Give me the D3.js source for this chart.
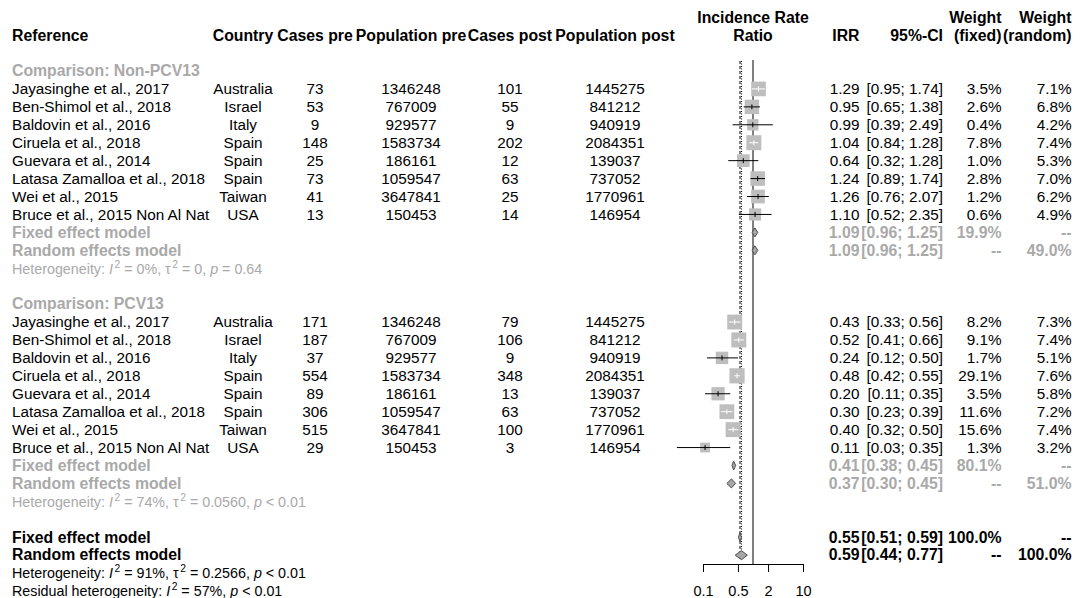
<!DOCTYPE html>
<html>
<head>
<meta charset="utf-8">
<script src="https://cdn.jsdelivr.net/npm/d3@7"></script>
<style>
  body { margin: 0; background: #fff; }
  svg { display: block; }
  text { font-family: 'Liberation Sans', Arial, Helvetica, sans-serif; }
</style>
</head>
<body>
<svg id="chart" width="1080" height="598"></svg>
<script>
// ---- Study data ----
const references = ["Jayasinghe et al., 2017", "Ben-Shimol et al., 2018", "Baldovin et al., 2016",
  "Ciruela et al., 2018", "Guevara et al., 2014", "Latasa Zamalloa et al., 2018",
  "Wei et al., 2015", "Bruce et al., 2015 Non Al Nat"];
const countries = ["Australia", "Israel", "Italy", "Spain", "Spain", "Spain", "Taiwan", "USA"];
const populationPre = [1346248, 767009, 929577, 1583734, 186161, 1059547, 3647841, 150453];
const populationPost = [1445275, 841212, 940919, 2084351, 139037, 737052, 1770961, 146954];

const groupLabels = ["Comparison: Non-PCV13", "Comparison: PCV13"];

// Non-PCV13 serotypes
const casesPreNon = [73, 53, 9, 148, 25, 73, 41, 13];
const casesPostNon = [101, 55, 9, 202, 12, 63, 25, 14];
const irrNon = [1.29, 0.95, 0.99, 1.04, 0.64, 1.24, 1.26, 1.10];
const lowerNon = [0.95, 0.65, 0.39, 0.84, 0.32, 0.89, 0.76, 0.52];
const upperNon = [1.74, 1.38, 2.49, 1.28, 1.28, 1.74, 2.07, 2.35];
const weightFixedNon = [3.5, 2.6, 0.4, 7.8, 1.0, 2.8, 1.2, 0.6];
const weightRandomNon = [7.1, 6.8, 4.2, 7.4, 5.3, 7.0, 6.2, 4.9];

// PCV13 serotypes
const casesPrePcv = [171, 187, 37, 554, 89, 306, 515, 29];
const casesPostPcv = [79, 106, 9, 348, 13, 63, 100, 3];
const irrPcv = [0.43, 0.52, 0.24, 0.48, 0.20, 0.30, 0.40, 0.11];
const lowerPcv = [0.33, 0.41, 0.12, 0.42, 0.11, 0.23, 0.32, 0.03];
const upperPcv = [0.56, 0.66, 0.50, 0.55, 0.35, 0.39, 0.50, 0.35];
const weightFixedPcv = [8.2, 9.1, 1.7, 29.1, 3.5, 11.6, 15.6, 1.3];
const weightRandomPcv = [7.3, 7.4, 5.1, 7.6, 5.8, 7.2, 7.4, 3.2];

// Subgroup pooled estimates (Non-PCV13, PCV13)
const subFixedIRR = [1.09, 0.41];
const subFixedLower = [0.96, 0.38];
const subFixedUpper = [1.25, 0.45];
const subFixedWeight = [19.9, 80.1];
const subRandomIRR = [1.09, 0.37];
const subRandomLower = [0.96, 0.30];
const subRandomUpper = [1.25, 0.45];
const subRandomWeight = [49.0, 51.0];
const subHetI2 = ["0%", "74%"];
const subHetTau2 = ["0", "0.0560"];
const subHetP = ["= 0.64", "< 0.01"];

// Overall pooled estimates
const overallFixed = [0.55, 0.51, 0.59];
const overallRandom = [0.59, 0.44, 0.77];
const overallHet = ["91%", "0.2566", "< 0.01"];
const residualHet = ["57%", "< 0.01"];

const axisTicks = [0.1, 0.5, 2, 10];

// ---- Layout ----
const svg = d3.select("#chart");
svg.append("rect").attr("width", 1080).attr("height", 598).attr("fill", "#fff");

const FS = 15.3;
const FS_BOLD = 15.8;
const FS_HET = 14.3;
const GREY = "#a9a9a9";
const x = d3.scaleLog().domain([0.1, 10]).range([703, 803]);
const row = d3.scaleLinear().domain([0, 29]).range([71, 591]);
const base = i => row(i) + 5.3;

const col = {
  ref: 12, country: 243, casesPre: 315, popPre: 411, casesPost: 510, popPost: 615,
  irr: 859.5, ci: 943, wf: 1001.5, wr: 1071.5
};

const fmt2 = d3.format(".2f");
const pct = v => v.toFixed(1) + "%";
const ciText = (l, u) => "[" + fmt2(l) + "; " + fmt2(u) + "]";

function txt(g, xPos, y, s, opts = {}) {
  return g.append("text")
    .attr("x", xPos).attr("y", y)
    .attr("text-anchor", opts.anchor || "start")
    .attr("font-size", opts.size || (opts.bold ? FS_BOLD : FS))
    .attr("font-weight", opts.bold ? "bold" : "normal")
    .attr("fill", opts.color || "#000")
    .text(s);
}

// ---- Build rows ----
const groups = [
  { label: groupLabels[0], casesPre: casesPreNon, casesPost: casesPostNon, irr: irrNon,
    lo: lowerNon, hi: upperNon, wf: weightFixedNon, wr: weightRandomNon },
  { label: groupLabels[1], casesPre: casesPrePcv, casesPost: casesPostPcv, irr: irrPcv,
    lo: lowerPcv, hi: upperPcv, wf: weightFixedPcv, wr: weightRandomPcv }
];

const studies = [];
const summaries = [];
const hetRows = [];
const headerRows = [];
let r = 0;
groups.forEach((g, gi) => {
  headerRows.push({ i: r, label: g.label });
  r++;
  references.forEach((ref, k) => {
    studies.push({
      i: r, ref, country: countries[k], casesPre: g.casesPre[k], popPre: populationPre[k],
      casesPost: g.casesPost[k], popPost: populationPost[k],
      irr: g.irr[k], lo: g.lo[k], hi: g.hi[k], wf: g.wf[k], wr: g.wr[k]
    });
    r++;
  });
  summaries.push({ i: r, label: "Fixed effect model", irr: subFixedIRR[gi], lo: subFixedLower[gi],
    hi: subFixedUpper[gi], wf: pct(subFixedWeight[gi]), wr: "--", color: GREY });
  r++;
  summaries.push({ i: r, label: "Random effects model", irr: subRandomIRR[gi], lo: subRandomLower[gi],
    hi: subRandomUpper[gi], wf: "--", wr: pct(subRandomWeight[gi]), color: GREY });
  r++;
  hetRows.push({ i: r, color: GREY, parts: [
    ["Heterogeneity: "], ["I", "it"], ["2", "sup"], [" = " + subHetI2[gi] + ", "],
    ["\u03C4"], ["2", "sup"], [" = " + subHetTau2[gi] + ", "], ["p", "it"], [" " + subHetP[gi]]
  ]});
  r += 2;
});
summaries.push({ i: r, label: "Fixed effect model", irr: overallFixed[0], lo: overallFixed[1],
  hi: overallFixed[2], wf: "100.0%", wr: "--", color: "#000" });
r++;
summaries.push({ i: r, label: "Random effects model", irr: overallRandom[0], lo: overallRandom[1],
  hi: overallRandom[2], wf: "--", wr: "100.0%", color: "#000" });
r++;
hetRows.push({ i: r, color: "#000", parts: [
  ["Heterogeneity: "], ["I", "it"], ["2", "sup"], [" = " + overallHet[0] + ", "],
  ["\u03C4"], ["2", "sup"], [" = " + overallHet[1] + ", "], ["p", "it"], [" " + overallHet[2]]
]});
r++;
hetRows.push({ i: r, color: "#000", parts: [
  ["Residual heterogeneity: "], ["I", "it"], ["2", "sup"], [" = " + residualHet[0] + ", "],
  ["p", "it"], [" " + residualHet[1]]
]});

// ---- Reference lines ----
const lines = svg.append("g");
lines.append("line").attr("x1", x(1)).attr("x2", x(1)).attr("y1", 60).attr("y2", 564)
  .attr("stroke", "#000").attr("stroke-width", 1);
lines.append("line").attr("x1", x(overallFixed[0])).attr("x2", x(overallFixed[0]))
  .attr("y1", 61).attr("y2", 561).attr("stroke", "#000").attr("stroke-width", 1)
  .attr("stroke-dasharray", "3,2");
lines.append("line").attr("x1", x(overallRandom[0])).attr("x2", x(overallRandom[0]))
  .attr("y1", 61).attr("y2", 561).attr("stroke", "#000").attr("stroke-width", 1)
  .attr("stroke-dasharray", "1,1.5");

// ---- Study squares and confidence intervals ----
const BOX = 5.5; // square side per sqrt(random weight %)
const marks = svg.append("g");
studies.forEach(s => {
  const cy = row(s.i);
  const cx = x(s.irr);
  const size = BOX * Math.sqrt(s.wr);
  marks.append("rect")
    .attr("x", cx - size / 2).attr("y", cy - size / 2)
    .attr("width", size).attr("height", size)
    .attr("fill", "#bebebe");
  const inside = x(s.lo) >= cx - size / 2 && x(s.hi) <= cx + size / 2;
  const c = inside ? "#fff" : "#000";
  marks.append("line").attr("x1", x(s.lo)).attr("x2", x(s.hi))
    .attr("y1", cy).attr("y2", cy).attr("stroke", c).attr("stroke-width", 1);
  marks.append("line").attr("x1", cx).attr("x2", cx)
    .attr("y1", cy - 2.5).attr("y2", cy + 2.5).attr("stroke", c).attr("stroke-width", 1);
});

// ---- Pooled diamonds ----
summaries.forEach(s => {
  const cy = row(s.i);
  const pts = [[x(s.lo), cy], [x(s.irr), cy - 4.5], [x(s.hi), cy], [x(s.irr), cy + 4.5]];
  marks.append("path")
    .attr("d", d3.line()(pts) + "Z")
    .attr("fill", "#a6a6a6").attr("stroke", "#4d4d4d").attr("stroke-width", 1);
});

// ---- Axis ----
const axis = svg.append("g").attr("transform", "translate(0,564)")
  .call(d3.axisBottom(x).tickValues(axisTicks).tickSize(8).tickSizeOuter(0)
    .tickFormat(d => String(d)));
axis.select(".domain").attr("stroke", "#000");
axis.selectAll(".tick line").attr("stroke", "#000");
axis.selectAll(".tick text").attr("font-size", 14.5).attr("fill", "#000")
  .attr("font-family", "'Liberation Sans', Arial, sans-serif").attr("dy", 0).attr("y", 32);

// ---- Column headings ----
const head = svg.append("g");
const hb = { bold: true };
txt(head, col.ref, 40.5, "Reference", hb);
txt(head, col.country, 40.5, "Country", { ...hb, anchor: "middle" });
txt(head, col.casesPre, 40.5, "Cases pre", { ...hb, anchor: "middle" });
txt(head, col.popPre, 40.5, "Population pre", { ...hb, anchor: "middle" });
txt(head, col.casesPost, 40.5, "Cases post", { ...hb, anchor: "middle" });
txt(head, col.popPost, 40.5, "Population post", { ...hb, anchor: "middle" });
txt(head, x(1), 22.5, "Incidence Rate", { ...hb, anchor: "middle" });
txt(head, x(1), 40.5, "Ratio", { ...hb, anchor: "middle" });
txt(head, col.irr, 40.5, "IRR", { ...hb, anchor: "end" });
txt(head, col.ci, 40.5, "95%-CI", { ...hb, anchor: "end" });
txt(head, col.wf, 22.5, "Weight", { ...hb, anchor: "end" });
txt(head, col.wf, 40.5, "(fixed)", { ...hb, anchor: "end" });
txt(head, col.wr, 22.5, "Weight", { ...hb, anchor: "end" });
txt(head, col.wr, 40.5, "(random)", { ...hb, anchor: "end" });

// ---- Table text ----
const body = svg.append("g");
headerRows.forEach(h => txt(body, col.ref, base(h.i), h.label, { bold: true, color: GREY }));

studies.forEach(s => {
  const y = base(s.i);
  txt(body, col.ref, y, s.ref);
  txt(body, col.country, y, s.country, { anchor: "middle" });
  txt(body, col.casesPre, y, s.casesPre, { anchor: "middle" });
  txt(body, col.popPre, y, s.popPre, { anchor: "middle" });
  txt(body, col.casesPost, y, s.casesPost, { anchor: "middle" });
  txt(body, col.popPost, y, s.popPost, { anchor: "middle" });
  txt(body, col.irr, y, fmt2(s.irr), { anchor: "end" });
  txt(body, col.ci, y, ciText(s.lo, s.hi), { anchor: "end" });
  txt(body, col.wf, y, pct(s.wf), { anchor: "end" });
  txt(body, col.wr, y, pct(s.wr), { anchor: "end" });
});

summaries.forEach(s => {
  const y = base(s.i);
  const o = { bold: true, color: s.color };
  txt(body, col.ref, y, s.label, o);
  txt(body, col.irr, y, fmt2(s.irr), { ...o, anchor: "end" });
  txt(body, col.ci, y, ciText(s.lo, s.hi), { ...o, anchor: "end" });
  txt(body, col.wf, y, s.wf, { ...o, anchor: "end" });
  txt(body, col.wr, y, s.wr, { ...o, anchor: "end" });
});

hetRows.forEach(h => {
  const t = body.append("text").attr("x", col.ref).attr("y", base(h.i))
    .attr("font-size", FS_HET).attr("fill", h.color);
  let raised = false;
  h.parts.forEach(([s, kind]) => {
    const sp = t.append("tspan").text(s);
    if (kind === "it") sp.attr("font-style", "italic");
    if (kind === "sup") {
      sp.attr("font-size", FS_HET * 0.72).attr("dy", -6).attr("dx", 1.5);
      raised = true;
    } else if (raised) {
      sp.attr("dy", 6);
      raised = false;
    }
  });
});
</script>
</body>
</html>
